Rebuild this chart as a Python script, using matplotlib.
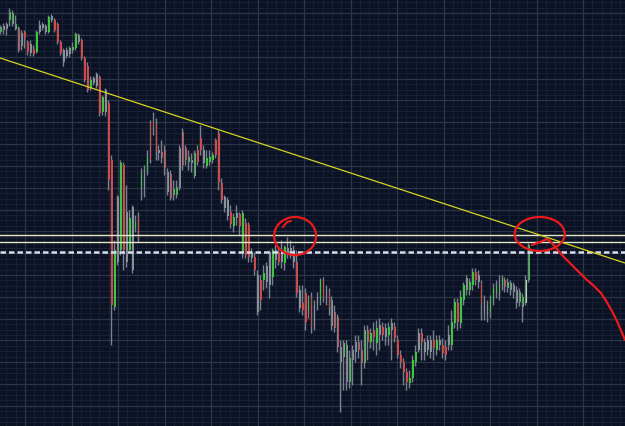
import numpy as np
import matplotlib
matplotlib.use("Agg")
import matplotlib.pyplot as plt
from matplotlib.patches import Ellipse

# ---- OHLC data (arbitrary price units) ----
opens = [398,404,406,410,406,406,402,397,398,388,386,381,378,405,406,404,398,414,410,406,
         388,380,380,382,380,382,395,390,372,364,342,352,356,353,318,340,327,270,123,233,
         180,265,218,180,223,202,212,257,242,272,270,309,306,280,278,280,258,256,241,235,
         242,298,282,273,267,277,268,292,280,272,268,270,275,297,247,233,230,218,213,212,
         216,217,175,205,178,173,155,150,150,164,178,153,180,178,180,167,182,182,180,168,
         140,127,137,120,133,125,133,130,150,140,137,130,118,113,83,73,85,48,70,88,
         88,80,67,100,88,100,87,105,103,102,95,107,103,90,75,68,58,47,52,68,
         97,97,88,90,90,90,80,90,85,83,95,85,107,127,107,130,152,140,145,158,
         155,147,130,125,130,130,137,150,145,150,148,140,145,140,128,133,127,150]
closes = [403,400,401,418,417,401,380,384,392,378,377,376,398,398,402,398,413,410,400,388,
          377,368,374,376,383,396,388,372,350,340,350,347,344,317,333,318,250,125,180,168,
          267,180,168,212,160,208,192,242,260,258,307,304,278,277,272,262,238,232,235,243,
          282,265,270,268,270,254,280,280,267,264,273,275,290,248,230,222,214,206,204,217,
          204,177,207,173,172,160,118,130,157,148,145,180,170,168,168,183,177,178,168,137,
          122,120,108,130,103,104,125,150,133,130,122,104,102,83,68,87,48,72,80,78,
          80,67,100,88,97,93,102,95,95,93,103,100,92,75,68,58,48,52,70,78,
          80,88,78,80,78,82,90,85,77,75,85,108,128,108,133,145,140,148,158,150,
          148,127,117,115,118,142,145,135,152,143,142,147,138,127,138,123,150,185]
highs = [405,407,408,422,420,415,404,400,400,390,390,385,400,410,408,406,415,416,412,408,
         390,382,383,384,388,398,397,392,374,368,354,354,358,355,335,342,330,275,190,235,
         270,268,245,220,225,215,218,262,265,280,310,318,312,285,290,285,262,260,250,250,
         285,302,285,280,277,280,285,305,285,280,280,278,292,300,252,235,233,225,217,225,
         218,220,212,208,182,178,160,155,165,168,180,182,185,182,190,185,193,190,185,180,
         145,145,142,135,138,130,138,152,153,145,142,134,125,116,90,90,90,80,85,95,
         95,90,105,105,102,108,110,112,108,107,108,112,108,95,80,72,62,60,75,85,
         102,102,92,95,95,100,95,95,92,90,105,120,132,132,140,148,155,152,162,162,
         160,150,135,130,135,147,150,155,155,153,152,150,148,144,142,137,155,187]
lows = [396,396,395,404,404,400,378,380,382,375,374,374,377,396,400,396,397,408,398,386,
        375,364,372,373,377,380,386,370,348,338,340,345,342,314,315,314,240,85,120,165,
        175,160,163,178,157,198,188,230,233,255,267,295,270,270,267,255,235,230,230,232,
        240,260,265,260,258,252,265,275,262,262,265,267,272,240,227,218,210,202,198,205,
        195,172,172,168,168,155,115,120,140,142,132,145,162,165,162,160,172,172,162,133,
        118,115,100,112,97,100,120,125,128,125,115,100,98,78,18,40,40,42,45,68,
        72,45,62,70,82,80,75,80,90,85,85,70,88,72,62,45,40,42,48,64,
        78,70,70,75,72,70,75,80,72,70,80,80,102,100,102,125,135,135,140,145,
        142,110,110,108,112,125,132,130,140,138,138,135,132,122,124,108,125,148]
# candle styling class: g = up, r = down, n = neutral/grey, l = live candle
kinds = ("gnngggrnrrnrgnnngnrr" "rnnnggnrrrgnnrgnrrgn"
         "grngngrgngrrrnrrnrgg" "nrrgngrrngggrrrnnrgn"
         "rgrrnrnrgnngnrngnnnr" "nrrgrnngrnrnrrngngnn"
         "rrgrgrgnrngnrrrrrggg" "nrnnnrgnrrnggrggngg"
         "rnrnngggngrgnnnggl")

# key levels and trendline anchors
resistance_levels = [195, 188.5]
support_level = 178
trend_points = [(0, 371.7), (177, 198.5)]

# hand-drawn annotation (index, price)
scribble_x = [178.0, 180.7, 183.0, 184.0, 186.1, 188.4, 190.7, 193.4, 196.1, 198.8,
              201.1, 203.1, 204.8, 206.5, 207.8, 209.2]
scribble_y = [185, 188, 191, 189, 182, 174, 167, 159, 151, 144, 137, 128, 119, 109, 100, 90]
circle1 = (98.6, 194, 14.1, 38)
circle2 = (180.6, 196, 16.8, 34)
hook_x = [94.5, 95.9, 97.2]
hook_y = [203, 208, 209]

BG = "#0b1223"
fig = plt.figure(figsize=(6.25, 4.26), dpi=100, facecolor=BG)
ax = fig.add_axes([0, 0, 1, 1], facecolor=BG)
ax.set_xlim(-0.335, 209.2)
ax.set_ylim(4, 430)

# grid
step_x = 15.59
major_x = np.arange(8.05 - step_x, 215, step_x)
minor_x = np.arange(8.05 - step_x, 215, step_x / 5)
step_y = 21.82
major_y = np.arange(395 - 20 * step_y, 440, step_y)
minor_y = np.arange(395 - 20 * step_y, 440, step_y / 4)
for v in minor_x:
    ax.axvline(v, color="#172036", lw=0.7, zorder=0)
for v in minor_y:
    ax.axhline(v, color="#172036", lw=0.7, zorder=0)
for v in major_x:
    ax.axvline(v, color="#2c364b", lw=0.9, zorder=0.5)
for v in major_y:
    ax.axhline(v, color="#2c364b", lw=0.9, zorder=0.5)

colors = {"g": "#3fc63f", "r": "#cf4a4a", "n": "#8a909a", "l": "#a8e6a0"}
n = len(opens)
idx = np.arange(n)
o = np.array(opens, float); c = np.array(closes, float)
h = np.array(highs, float); l = np.array(lows, float)
ax.vlines(idx - 0.2, l, h, color="#7a818c", lw=1.0, zorder=2)
bottoms = np.minimum(o, c)
heights = np.maximum(np.abs(c - o), 1.5)
ax.bar(idx + 0.15, heights, bottom=bottoms, width=0.55,
       color=[colors[k] for k in kinds[:n]], linewidth=0, zorder=3)

# levels
for lv in resistance_levels:
    ax.axhline(lv, color="#e6e6c8", lw=1.0, zorder=4)
ax.axhline(support_level, color="#d5dcea", lw=1.8, ls=(0, (2.2, 1.2)), zorder=4)
ax.axline(trend_points[0], trend_points[1], color="#d6d41f", lw=0.9, zorder=4)

# annotations
red = "#ec1a1a"
for (cx, cy, w, hh) in (circle1, circle2):
    ax.add_patch(Ellipse((cx, cy), w, hh, fill=False, ec=red, lw=1.6, zorder=6))
ax.plot(hook_x, hook_y, color=red, lw=1.4, zorder=6)
ax.plot(scribble_x, scribble_y, color=red, lw=1.6, zorder=6, solid_capstyle="round")

ax.set_xticks([]); ax.set_yticks([])
for s in ax.spines.values():
    s.set_visible(False)
fig.savefig("out.png", dpi=100, facecolor=BG)
